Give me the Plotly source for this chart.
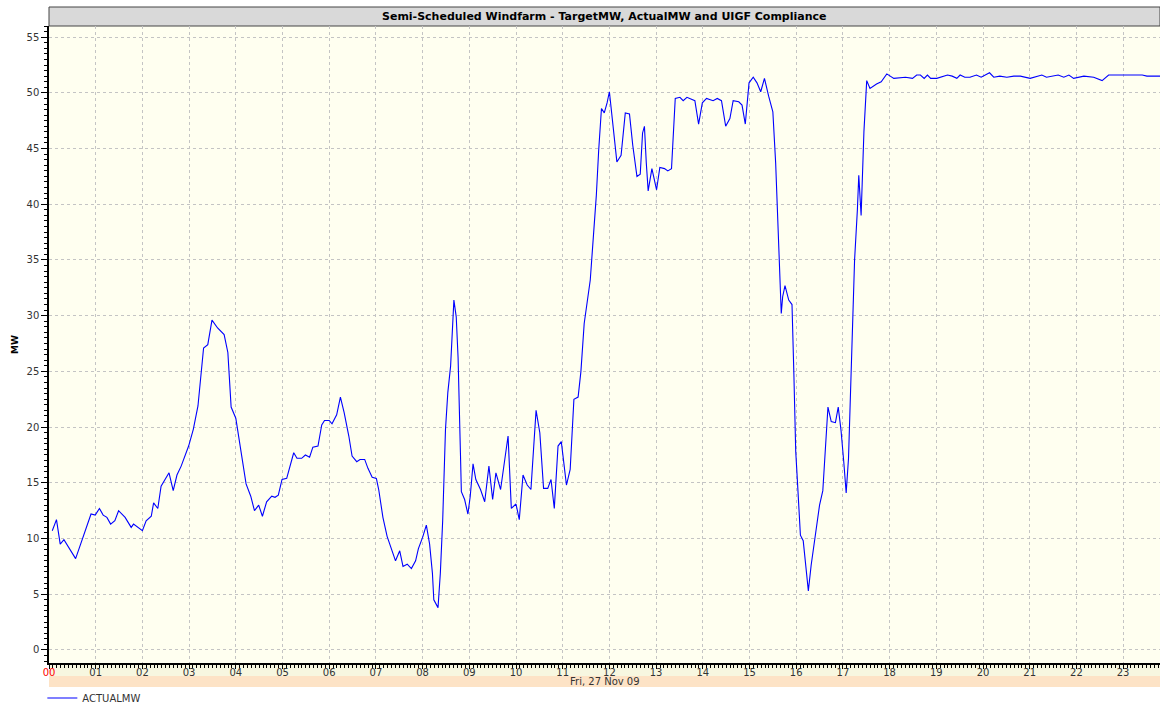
import plotly.graph_objects as go

# hora del dia (decimal) y potencia real medida en MW
horas = [
    0.07, 0.16, 0.24, 0.32, 0.57, 0.70, 0.81, 0.90, 0.99, 1.08, 1.16, 1.24, 1.32, 1.41, 1.49,
    1.63, 1.76, 1.81, 2.00, 2.08, 2.19, 2.24, 2.33, 2.40, 2.57, 2.66, 2.74, 2.83, 2.99, 3.09,
    3.19, 3.31, 3.40, 3.49, 3.61, 3.75, 3.83, 3.90, 4.00, 4.13, 4.22, 4.32, 4.40, 4.49, 4.57,
    4.66, 4.77, 4.84, 4.91, 4.99, 5.09, 5.24, 5.31, 5.41, 5.49, 5.58, 5.65, 5.76, 5.84, 5.90,
    6.00, 6.06, 6.16, 6.24, 6.32, 6.42, 6.49, 6.59, 6.66, 6.76, 6.83, 6.92, 7.01, 7.06, 7.15,
    7.24, 7.33, 7.42, 7.51, 7.58, 7.67, 7.76, 7.85, 7.91, 8.00, 8.08, 8.15, 8.21, 8.24, 8.33,
    8.38, 8.43, 8.49, 8.54, 8.60, 8.63, 8.67, 8.72, 8.76, 8.81, 8.83, 8.90, 8.97, 9.02, 9.08,
    9.14, 9.24, 9.33, 9.42, 9.50, 9.57, 9.67, 9.74, 9.83, 9.90, 10.00, 10.07, 10.15, 10.24, 10.32,
    10.38, 10.43, 10.51, 10.59, 10.68, 10.75, 10.82, 10.90, 10.97, 11.04, 11.08, 11.16, 11.24, 11.33, 11.39,
    11.46, 11.52, 11.59, 11.66, 11.72, 11.77, 11.83, 11.89, 11.95, 12.00, 12.09, 12.16, 12.25, 12.29, 12.34,
    12.43, 12.50, 12.59, 12.66, 12.71, 12.75, 12.79, 12.83, 12.91, 13.01, 13.08, 13.18, 13.25, 13.33, 13.41,
    13.51, 13.58, 13.66, 13.83, 13.91, 13.99, 14.08, 14.22, 14.31, 14.40, 14.49, 14.58, 14.65, 14.77, 14.84,
    14.91, 14.99, 15.08, 15.16, 15.24, 15.32, 15.41, 15.50, 15.56, 15.61, 15.65, 15.68, 15.71, 15.76, 15.84,
    15.91, 15.95, 15.99, 16.02, 16.09, 16.15, 16.20, 16.26, 16.32, 16.41, 16.50, 16.57, 16.63, 16.68, 16.75,
    16.84, 16.90, 16.96, 17.02, 17.07, 17.12, 17.19, 17.25, 17.31, 17.34, 17.39, 17.45, 17.51, 17.58, 17.72,
    17.82, 17.94, 18.09, 18.34, 18.49, 18.58, 18.66, 18.74, 18.81, 18.88, 19.01, 19.24, 19.34, 19.44, 19.51,
    19.61, 19.72, 19.86, 19.96, 20.14, 20.23, 20.36, 20.51, 20.66, 20.80, 21.01, 21.26, 21.36, 21.61, 21.73,
    21.84, 21.94, 22.16, 22.37, 22.55, 22.69, 22.80, 22.91, 23.09, 23.41, 23.51, 23.66, 23.80,
]
actual_mw = [
    10.7, 11.7, 9.5, 9.9, 8.2, 9.8, 11.0, 12.2, 12.1, 12.7, 12.1, 11.9, 11.3, 11.6, 12.5,
    11.9, 11.0, 11.3, 10.7, 11.6, 12.0, 13.2, 12.7, 14.7, 15.9, 14.3, 15.7, 16.5, 18.3, 19.8,
    21.9, 27.1, 27.4, 29.6, 28.9, 28.3, 26.7, 21.8, 20.8, 17.4, 14.9, 13.8, 12.5, 13.0, 12.0,
    13.3, 13.8, 13.7, 13.9, 15.3, 15.4, 17.7, 17.2, 17.2, 17.5, 17.3, 18.2, 18.3, 20.2, 20.6,
    20.6, 20.3, 21.1, 22.7, 21.3, 19.2, 17.4, 16.9, 17.1, 17.1, 16.3, 15.5, 15.4, 14.4, 11.9,
    10.2, 9.0, 8.0, 8.9, 7.5, 7.7, 7.3, 8.0, 9.1, 10.1, 11.2, 9.5, 6.9, 4.5, 3.8,
    6.9, 11.6, 19.8, 23.1, 25.5, 28.7, 31.4, 29.9, 26.2, 17.7, 14.2, 13.5, 12.2, 13.8, 16.7,
    15.3, 14.4, 13.3, 16.5, 13.5, 15.9, 14.4, 16.6, 19.2, 12.7, 13.1, 11.7, 15.7, 14.8, 14.4,
    18.3, 21.5, 19.5, 14.5, 14.5, 15.3, 12.7, 18.3, 18.7, 16.2, 14.8, 16.2, 22.5, 22.7, 25.0,
    29.3, 31.0, 33.2, 37.3, 40.8, 44.8, 48.6, 48.2, 49.1, 50.1, 46.2, 43.8, 44.4, 46.4, 48.2,
    48.1, 45.3, 42.5, 42.7, 46.4, 47.0, 43.7, 41.2, 43.2, 41.3, 43.3, 43.2, 43.0, 43.2, 49.5,
    49.6, 49.3, 49.6, 49.3, 47.2, 49.1, 49.5, 49.3, 49.5, 49.3, 47.0, 47.7, 49.3, 49.2, 48.9,
    47.2, 50.9, 51.4, 50.9, 50.1, 51.3, 49.7, 48.3, 43.7, 37.9, 32.8, 30.2, 31.7, 32.7, 31.4,
    31.0, 24.8, 17.8, 15.6, 10.3, 9.8, 7.9, 5.3, 7.6, 10.4, 13.0, 14.3, 19.1, 21.8, 20.5,
    20.4, 21.8, 19.7, 16.8, 14.1, 17.2, 26.4, 35.0, 39.5, 42.6, 39.0, 46.5, 51.1, 50.4, 50.8,
    51.0, 51.7, 51.3, 51.4, 51.3, 51.6, 51.6, 51.3, 51.6, 51.3, 51.3, 51.6, 51.5, 51.3, 51.6,
    51.4, 51.4, 51.6, 51.4, 51.8, 51.4, 51.5, 51.4, 51.5, 51.5, 51.3, 51.6, 51.4, 51.6, 51.4,
    51.6, 51.3, 51.5, 51.4, 51.1, 51.6, 51.6, 51.6, 51.6, 51.6, 51.5, 51.5, 51.5,
]
etiquetas_hora = ["%02d" % h for h in range(24)]
etiquetas_hora[0] = "<span style='color:#ff0000'>00</span>"
ticks_y = list(range(0, 56, 5))

ANCHO, ALTO = 1160, 703
M_IZQ, M_SUP, M_INF = 49, 26, 40
alto_plot = ALTO - M_SUP - M_INF
px2paper = lambda px: px / alto_plot

fuente = "DejaVu Sans"
fig = go.Figure()

fig.add_trace(go.Scatter(
    x=horas, y=actual_mw, mode="lines", name="ACTUALMW",
    line=dict(color="#0000ff", width=1.1),
))

grid = dict(showgrid=True, gridcolor="#c4c4c4", griddash="3px,3px", gridwidth=1)

fig.update_xaxes(
    range=[0, 23.79], tickmode="array", tickvals=list(range(24)), ticktext=etiquetas_hora,
    showline=True, linecolor="#000000", linewidth=1.5, ticks="outside", ticklen=4,
    tickcolor="#000000", tickfont=dict(family=fuente, size=10, color="#333333"),
    ticklabelstandoff=-5,
    minor=dict(tickmode="linear", tick0=0, dtick=1 / 12, ticks="outside", ticklen=3,
               tickcolor="#000000", showgrid=False),
    zeroline=False, automargin=False, **grid,
)
fig.update_yaxes(
    range=[-1.17, 56], tickmode="array", tickvals=ticks_y,
    showline=True, linecolor="#000000", linewidth=1.5, ticks="outside", ticklen=6,
    tickcolor="#000000", tickfont=dict(family=fuente, size=10, color="#333333"),
    minor=dict(tickmode="linear", tick0=0, dtick=0.5, ticks="outside", ticklen=3,
               tickcolor="#000000", showgrid=False),
    title=dict(text="<b>MW</b>", font=dict(family=fuente, size=9, color="#000000"), standoff=6),
    zeroline=False, automargin=False, **grid,
)

formas = [
    # barra del titulo
    dict(type="rect", xref="paper", yref="paper", x0=0, x1=1, y0=1, y1=1 + px2paper(19),
         fillcolor="#d9d9d9", line=dict(color="#444444", width=1), layer="below"),
    # franja de horas
    dict(type="rect", xref="paper", yref="paper", x0=0, x1=1, y0=-px2paper(13), y1=0,
         fillcolor="#f7f7e0", line=dict(width=0), layer="below"),
    # franja de fecha
    dict(type="rect", xref="paper", yref="paper", x0=0, x1=1, y0=-px2paper(24), y1=-px2paper(13),
         fillcolor="#fde3c6", line=dict(width=0), layer="below"),
]

fig.update_layout(
    width=ANCHO, height=ALTO,
    margin=dict(l=M_IZQ, r=0, t=M_SUP, b=M_INF, autoexpand=False),
    paper_bgcolor="#ffffff", plot_bgcolor="#fffff0",
    shapes=formas,
    annotations=[
        dict(text="<b>Semi-Scheduled Windfarm - TargetMW, ActualMW and UIGF Compliance</b>",
             xref="paper", yref="paper", x=0.5, y=1 + px2paper(9.5), showarrow=False,
             font=dict(family=fuente, size=11, color="#000000"), yanchor="middle"),
        dict(text="Fri, 27 Nov 09", xref="paper", yref="paper", x=0.5,
             y=-px2paper(18.5), showarrow=False, yanchor="middle",
             font=dict(family=fuente, size=10, color="#333333")),
    ],
    showlegend=True,
    legend=dict(orientation="h", x=-0.006, y=-px2paper(35), xanchor="left", yanchor="middle",
                font=dict(family=fuente, size=10, color="#333333"), bgcolor="rgba(0,0,0,0)",
                itemwidth=30),
)

# sin el margen por defecto del body la figura ocupa toda la ventana
fig.write_html("out.html", config={"displayModeBar": False},
               post_script="document.body.style.margin='0';"
                           "document.body.style.overflow='hidden';")
